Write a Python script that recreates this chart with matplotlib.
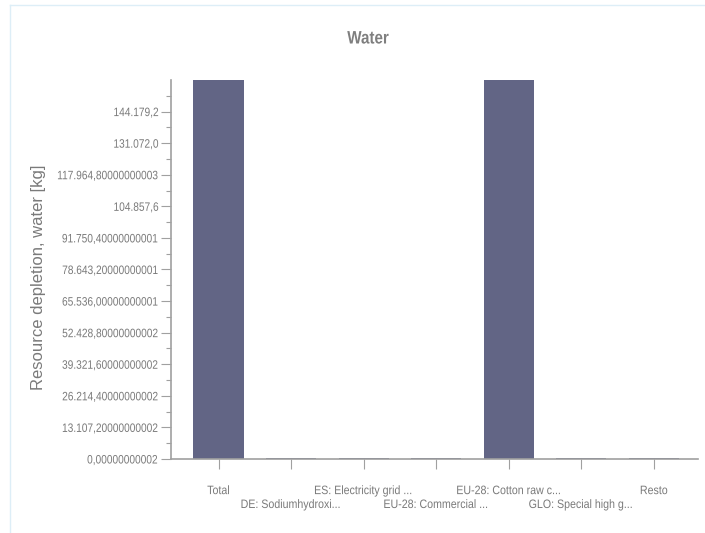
import matplotlib
matplotlib.use("Agg")
import matplotlib.pyplot as plt
from matplotlib.lines import Line2D
from matplotlib.ticker import FixedLocator
from matplotlib.patheffects import AbstractPathEffect
from matplotlib.transforms import Affine2D

categories = ["Total", "DE: Sodiumhydroxi...", "ES: Electricity grid ...",
              "EU-28: Commercial ...", "EU-28: Cotton raw c...",
              "GLO: Special high g...", "Resto"]
values = [385000, 450, 420, 400, 360000, 420, 430]
ytick_values = [0.00000000002, 13107.20000000002, 26214.40000000002,
                39321.60000000002, 52428.80000000002, 65536.00000000001,
                78643.20000000001, 91750.40000000001, 104857.6,
                117964.80000000003, 131072.0, 144179.2]
ytick_labels = ["0,00000000002", "13.107,20000000002", "26.214,40000000002",
                "39.321,60000000002", "52.428,80000000002", "65.536,00000000001",
                "78.643,20000000001", "91.750,40000000001", "104.857,6",
                "117.964,80000000003", "131.072,0", "144.179,2"]
title = "Water"
ylabel = "Resource depletion, water [kg]"


class Condense(AbstractPathEffect):
    """Squeeze glyph outlines horizontally (narrow-font look)."""
    def __init__(self, sx, anchor="center"):
        super().__init__()
        self.sx = sx
        self.anchor = anchor

    def draw_path(self, renderer, gc, tpath, affine, rgbFace=None):
        v = tpath.vertices
        if len(v) == 0:
            return
        xmin, xmax = v[:, 0].min(), v[:, 0].max()
        a = {"left": xmin, "right": xmax}.get(self.anchor, (xmin + xmax) / 2)
        t = Affine2D().translate(-a, 0).scale(self.sx, 1).translate(a, 0) + affine
        renderer.draw_path(gc, tpath, t, rgbFace)


font = ["Liberation Sans", "DejaVu Sans"]
txt_color = "#7a7a7a"
axis_color = "#a0a0a0"
bar_color = "#626585"

fig = plt.figure(figsize=(7.05, 5.33), dpi=100)
ax = fig.add_axes([171/705, 1-459/533, (698-171)/705, (459-80)/533])

x = list(range(len(categories)))
ax.bar(x, values, width=0.69, color=bar_color, zorder=2)

ax.set_xlim(-0.655, 6.61)
ax.set_ylim(0, 157286.4)

ax.yaxis.set_major_locator(FixedLocator(ytick_values))
ax.set_yticklabels(ytick_labels, family=font, fontsize=8.8, color=txt_color)
for lab in ax.get_yticklabels():
    lab.set_path_effects([Condense(0.83, "right")])
minor = [v + 6553.6 for v in ytick_values]
ax.yaxis.set_minor_locator(FixedLocator(minor))
ax.tick_params(axis="y", which="major", length=7.5, width=0.8, color=axis_color, pad=1.5)
ax.tick_params(axis="y", which="minor", length=3.5, width=0.8, color=axis_color)

ax.set_xticks(x)
ax.set_xticklabels(categories, family=font, fontsize=8.8, color=txt_color)
for lab in ax.get_xticklabels():
    lab.set_path_effects([Condense(0.87, "center")])
ax.tick_params(axis="x", which="major", length=7, width=0.8, color=axis_color, pad=11.8)
for i, tick in enumerate(ax.xaxis.get_major_ticks()):
    if i % 2 == 1:
        tick.set_pad(21.8)

for s in ["top", "right"]:
    ax.spines[s].set_visible(False)
for s in ["left", "bottom"]:
    ax.spines[s].set_color(axis_color)
    ax.spines[s].set_linewidth(1.2)

ax.set_ylabel(ylabel, family=font, fontsize=12, color=txt_color, labelpad=0)
ax.yaxis.set_label_coords((46-171)/(698-171), 0.48)

t = fig.text(368/705, 1-39/533, title, ha="center", va="center", family=font,
             fontsize=13, fontweight="bold", color="#7f7f7f")
t.set_path_effects([Condense(0.84, "center")])

frame_c = "#ddeef7"
fig.add_artist(Line2D([10/705, 10/705], [0, 1-5/533], transform=fig.transFigure, color=frame_c, lw=1))
fig.add_artist(Line2D([10/705, 1], [1-5/533, 1-5/533], transform=fig.transFigure, color=frame_c, lw=1))

fig.savefig("out.png", dpi=100)
